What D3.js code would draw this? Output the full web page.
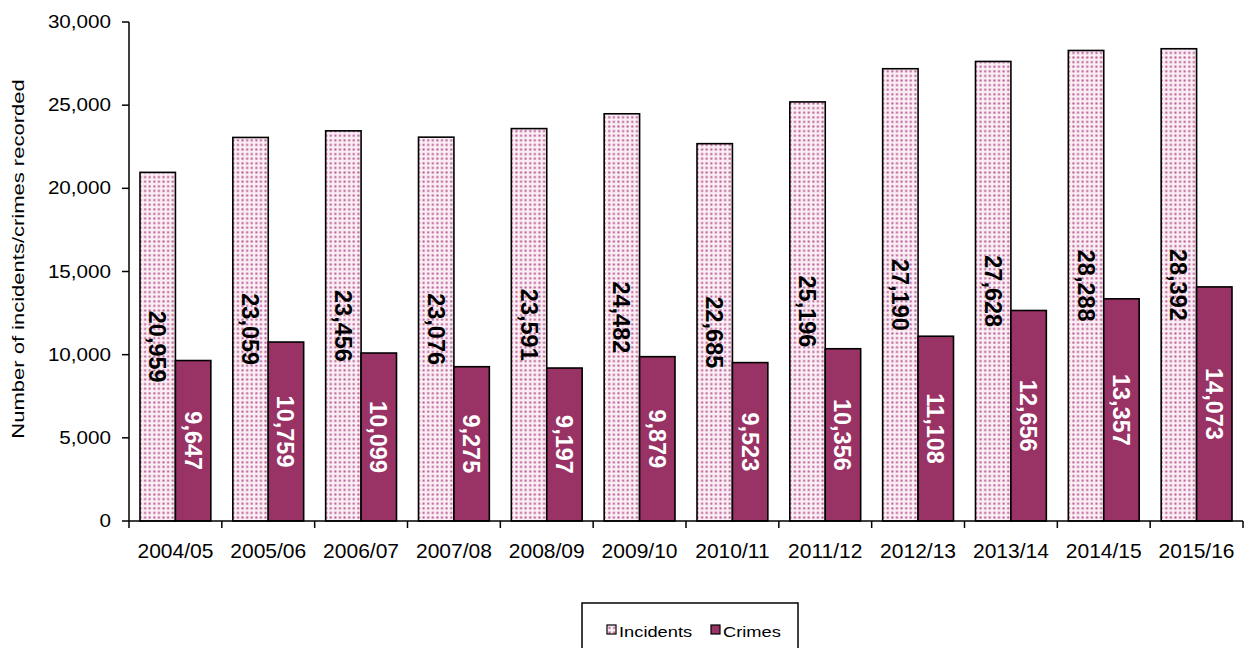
<!DOCTYPE html>
<html>
<head>
<meta charset="utf-8">
<script src="https://cdn.jsdelivr.net/npm/d3@7"></script>
<style>
  body { margin: 0; background: #fff; }
  svg { display: block; font-family: Arial, "Liberation Sans", sans-serif; }
</style>
</head>
<body>
<svg id="chart" width="1245" height="648"></svg>
<script>
var years = ["2004/05","2005/06","2006/07","2007/08","2008/09","2009/10","2010/11","2011/12","2012/13","2013/14","2014/15","2015/16"];
var incidents = [20959,23059,23456,23076,23591,24482,22685,25196,27190,27628,28288,28392];
var crimes = [9647,10759,10099,9275,9197,9879,9523,10356,11108,12656,13357,14073];
var yTicks = [0,5000,10000,15000,20000,25000,30000];
var seriesNames = ["Incidents","Crimes"];

var svg = d3.select("#chart");
var crimeColor = "#993366";
var fmt = d3.format(",");
var stretch = 1.18;

// dotted fill like the excel pattern
var defs = svg.append("defs");
var pat = defs.append("pattern")
  .attr("id","dots")
  .attr("patternUnits","userSpaceOnUse")
  .attr("width",4.6).attr("height",4.6);
pat.append("rect").attr("width",4.6).attr("height",4.6).attr("fill","#fbeef5");
pat.append("rect").attr("x",1.3).attr("y",1.3).attr("width",2).attr("height",2).attr("fill","#b5558e");

var x = d3.scaleBand().domain(years).range([129,1243]).padding(0);
var sub = d3.scaleBand().domain(seriesNames).range([11, x.bandwidth()-11]).padding(0);
var y = d3.scaleLinear().domain([0,30000]).range([521,22]);

var groups = svg.append("g").selectAll("g")
  .data(years)
  .enter().append("g")
  .attr("transform", function(d) { return "translate(" + x(d) + ",0)"; });

groups.append("rect")
  .attr("x", sub("Incidents"))
  .attr("y", function(d,i) { return y(incidents[i]); })
  .attr("width", sub.bandwidth())
  .attr("height", function(d,i) { return y(0) - y(incidents[i]); })
  .attr("fill","url(#dots)")
  .attr("stroke","#000").attr("stroke-width",1.6);

groups.append("rect")
  .attr("x", sub("Crimes"))
  .attr("y", function(d,i) { return y(crimes[i]); })
  .attr("width", sub.bandwidth())
  .attr("height", function(d,i) { return y(0) - y(crimes[i]); })
  .attr("fill",crimeColor)
  .attr("stroke","#000").attr("stroke-width",1.6);

// value labels, rotated, centred in each bar
function barLabel(sel, key, vals, color) {
  sel.append("text")
    .attr("transform", function(d,i) {
      var cx = sub(key) + sub.bandwidth()/2;
      var cy = (y(vals[i]) + y(0))/2;
      return "translate(" + cx + "," + cy + ") rotate(90)";
    })
    .attr("text-anchor","middle")
    .attr("dy","0.36em")
    .attr("font-size",23.5)
    .attr("font-weight","bold")
    .attr("fill",color)
    .text(function(d,i) { return fmt(vals[i]); });
}
barLabel(groups, "Incidents", incidents, "#000");
barLabel(groups, "Crimes", crimes, "#fff");

// axes
var axisG = svg.append("g");
axisG.append("line").attr("x1",129).attr("x2",129).attr("y1",y(30000)).attr("y2",y(0))
  .attr("stroke","#000").attr("stroke-width",1.5);
axisG.append("line").attr("x1",129).attr("x2",1243).attr("y1",y(0)).attr("y2",y(0))
  .attr("stroke","#000").attr("stroke-width",1.5);

axisG.selectAll("line.ytick").data(yTicks).enter().append("line")
  .attr("class","ytick")
  .attr("x1",122).attr("x2",129)
  .attr("y1", function(d) { return y(d); }).attr("y2", function(d) { return y(d); })
  .attr("stroke","#000").attr("stroke-width",1.5);
axisG.selectAll("text.ylab").data(yTicks).enter().append("text")
  .attr("class","ylab")
  .attr("transform", function(d) { return "translate(111," + y(d) + ") scale(" + stretch + ",1)"; })
  .attr("text-anchor","end")
  .attr("dy","0.35em")
  .attr("font-size",17.5)
  .text(function(d) { return fmt(d); });

var boundaries = years.map(function(d) { return x(d); }).concat([x(years[years.length-1]) + x.bandwidth()]);
axisG.selectAll("line.xtick").data(boundaries).enter().append("line")
  .attr("class","xtick")
  .attr("x1", function(d) { return d; }).attr("x2", function(d) { return d; })
  .attr("y1",y(0)).attr("y2",y(0)+7)
  .attr("stroke","#000").attr("stroke-width",1.5);
axisG.selectAll("text.xlab").data(years).enter().append("text")
  .attr("class","xlab")
  .attr("x", function(d) { return x(d) + x.bandwidth()/2; })
  .attr("y", 558)
  .attr("text-anchor","middle")
  .attr("font-size",21)
  .text(function(d) { return d; });

svg.append("text")
  .attr("transform","translate(24,259) scale(0.74,1) rotate(-90)")
  .attr("text-anchor","middle")
  .attr("font-size",22)
  .text("Number of incidents/crimes recorded");

// legend
var leg = svg.append("g");
leg.append("rect").attr("x",582).attr("y",603).attr("width",216).attr("height",60)
  .attr("fill","#fff").attr("stroke","#000").attr("stroke-width",1.5);
var legX = [607, 711];
seriesNames.forEach(function(name, i) {
  leg.append("rect").attr("x",legX[i]).attr("y",625).attr("width",9).attr("height",9)
    .attr("fill", i === 0 ? "url(#dots)" : crimeColor)
    .attr("stroke","#000").attr("stroke-width",1.2);
  leg.append("text")
    .attr("transform","translate(" + (legX[i]+12) + ",637) scale(" + stretch + ",1)")
    .attr("font-size",15.5)
    .text(name);
});
</script>
</body>
</html>
